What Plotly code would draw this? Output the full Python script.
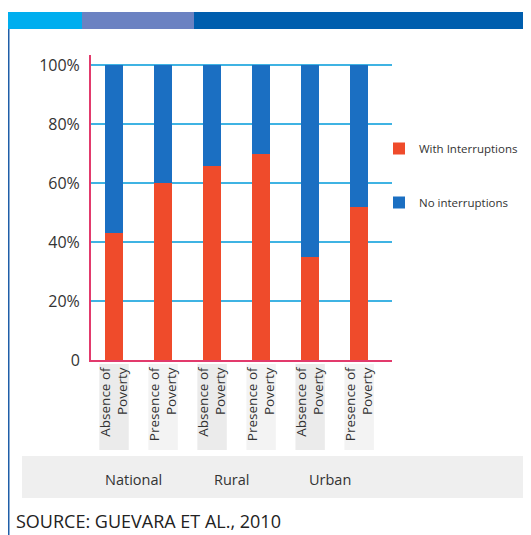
import plotly.graph_objects as go

# data
groups = ["National", "Rural", "Urban"]
bar_labels = ["Absence of<br>Poverty", "Presence of<br>Poverty"] * 3
with_interruptions = [43, 60, 66, 70, 35, 52]
no_interruptions = [100 - v for v in with_interruptions]
y_ticks = [0, 20, 40, 60, 80, 100]
y_tick_text = ["0", "20%", "40%", "60%", "80%", "100%"]
source = "SOURCE: GUEVARA ET AL., 2010"

# the page body has an 8px margin, so the figure starts at (8, 8)
O = 8
W, H = 531 - 2 * O, 535 - O
L, T = 91 - O, 55 - O
B = H - (360 - O)
PW = W - L              # paper width (right margin 0, plot narrowed via domain)
plot_w = 392 - 91
ph = H - T - B


def px_x(x):
    # x in reference picture pixels -> paper
    return (x - O - L) / PW


def px_y(y):
    return (H - B - (y - O)) / ph


font = "Open Sans"
xs = list(range(len(bar_labels)))
red, blue = "#ef4b2b", "#1b6fc2"

fig = go.Figure()
fig.add_trace(go.Bar(x=xs, y=with_interruptions, name="With Interruptions",
                     marker=dict(color=red, line_width=0), width=0.37,
                     legendgroup="a"))
fig.add_trace(go.Bar(x=xs, y=no_interruptions, name="No interruptions",
                     marker=dict(color=blue, line_width=0), width=0.37,
                     legendgroup="b"))

shapes = []
# header band and frame
for x0, x1, c in [(O, 82, "#00aeef"), (82, 194, "#6b82c2"), (194, 531, "#005eae")]:
    shapes.append(dict(type="rect", xref="paper", yref="paper", x0=px_x(x0), x1=px_x(x1),
                       y0=px_y(29), y1=px_y(12), fillcolor=c, line_width=0, layer="below"))
shapes.append(dict(type="rect", xref="paper", yref="paper", x0=px_x(O), x1=px_x(O + 1.5),
                   y0=px_y(535), y1=px_y(29), fillcolor="#1f5ea8", line_width=0))
# grey band behind group names
shapes.append(dict(type="rect", xref="paper", yref="paper", x0=px_x(22), x1=px_x(531),
                   y0=px_y(498), y1=px_y(456), fillcolor="#efefef", line_width=0, layer="below"))
# grey patches behind tick labels
for i in xs:
    shapes.append(dict(type="rect", xref="x", yref="paper", x0=i - 0.3, x1=i + 0.3,
                       y0=px_y(450), y1=px_y(364),
                       fillcolor="#ebebeb" if i % 2 == 0 else "#f3f3f3",
                       line_width=0, layer="below"))

annotations = []
for k, g in enumerate(groups):
    annotations.append(dict(x=2 * k + 0.4, y=px_y(479), xref="x", yref="paper", text=g,
                            showarrow=False, yanchor="middle",
                            font=dict(family=font, size=14.5, color="#333333")))
annotations.append(dict(x=px_x(14), y=px_y(521), xref="paper", yref="paper", text=source,
                        showarrow=False, xanchor="left", yanchor="middle",
                        font=dict(family=font, size=18, color="#222222")))

fig.update_layout(
    width=W, height=H,
    margin=dict(l=L, r=0, t=T, b=B),
    barmode="stack",
    paper_bgcolor="white", plot_bgcolor="white",
    font=dict(family=font, color="#333333"),
    showlegend=True,
    legend=dict(x=px_x(523), y=px_y(134), xanchor="right", yanchor="top",
                traceorder="grouped", tracegroupgap=35,
                font=dict(family=font, size=11.5, color="#333333"),
                itemwidth=30, bgcolor="rgba(0,0,0,0)", borderwidth=0),
    xaxis=dict(domain=[0, plot_w / PW], range=[-0.47, 5.67], tickvals=xs,
               ticktext=bar_labels, tickangle=-90,
               showgrid=False, showline=True, linecolor="#e23a6c", linewidth=2,
               ticks="", tickfont=dict(family=font, size=13.5, color="#333333"),
               fixedrange=True),
    yaxis=dict(range=[0, 103.5], tickvals=y_ticks, ticktext=y_tick_text,
               showgrid=True, gridcolor="#3fb3e3", gridwidth=1.5, zeroline=False,
               showline=True, linecolor="#e23a6c", linewidth=2,
               tickfont=dict(family=font, size=16, color="#333333"), ticks="",
               ticklabelstandoff=6),
    shapes=shapes,
    annotations=annotations,
)

fig.write_html("out.html")
